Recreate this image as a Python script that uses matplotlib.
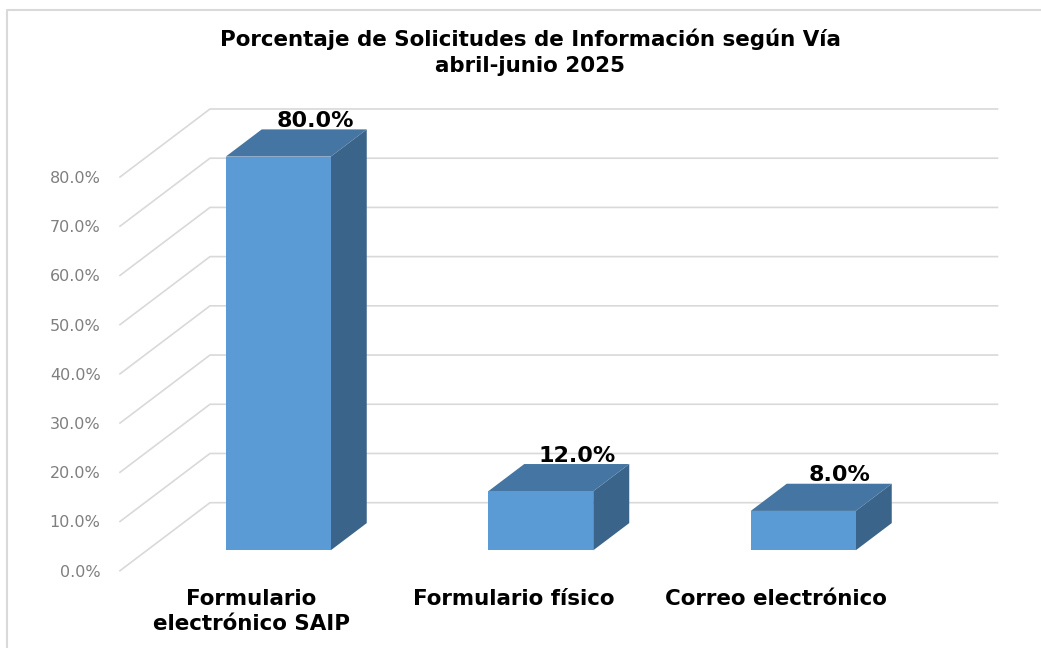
import matplotlib
matplotlib.use("Agg")
import matplotlib.pyplot as plt
from matplotlib.lines import Line2D
from matplotlib.patches import Polygon

categories = ["Formulario\nelectrónico SAIP", "Formulario físico", "Correo electrónico"]
values = [80.0, 12.0, 8.0]
y_ticks = [0, 10, 20, 30, 40, 50, 60, 70, 80]
title_text = "Porcentaje de Solicitudes de Información según Vía\nabril-junio 2025"

W, H = 1041, 648
fig = plt.figure(figsize=(W / 100, H / 100), dpi=100, facecolor="white")

# axes box is the front plane of the fake 3D chart
ax = fig.add_axes([120 / W, 1 - 570.7 / H, 787.5 / W, 393.7 / H])
ax.set_xlim(0, 3)
ax.set_ylim(0, 80)
ax.patch.set_alpha(0)
for s in ax.spines.values():
    s.set_visible(False)

# how far the back wall is shifted, in data units
DEPTH_X = 90 / 262.5
DEPTH_Y = 68 / 4.92


def proj(x, v, d):
    return (x + d * DEPTH_X, v + d * DEPTH_Y)


GRID = "#d9d9d9"
for v in y_ticks:
    x0, y0 = proj(0, v, 0)
    x1, y1 = proj(0, v, 1)
    x2, y2 = proj(3, v, 1)
    ax.plot([x0, x1, x2], [y0, y1, y2], color=GRID, lw=1.2, clip_on=False, zorder=1)

# bars: box from depth 0.3 to 0.7, 40% of the category wide
half = 0.2
for i, val in enumerate(values):
    c = i + 0.5
    l, r = c - half, c + half
    front = [proj(l, 0, 0.3), proj(r, 0, 0.3), proj(r, val, 0.3), proj(l, val, 0.3)]
    top = [proj(l, val, 0.3), proj(r, val, 0.3), proj(r, val, 0.7), proj(l, val, 0.7)]
    side = [proj(r, 0, 0.3), proj(r, 0, 0.7), proj(r, val, 0.7), proj(r, val, 0.3)]
    ax.add_patch(Polygon(side, closed=True, fc="#3a6489", ec="none", clip_on=False, zorder=3))
    ax.add_patch(Polygon(top, closed=True, fc="#4575a2", ec="none", clip_on=False, zorder=3))
    ax.add_patch(Polygon(front, closed=True, fc="#5b9bd5", ec="none", clip_on=False, zorder=4))
    ax.annotate(f"{val:.1f}%", xy=proj(c, val, 0.7), xytext=(0.5, 1.8), textcoords="offset points",
                ha="center", va="baseline", fontsize=16, fontweight="bold", color="black",
                annotation_clip=False, zorder=5)

ax.set_yticks(y_ticks)
ax.set_yticklabels([f"{v:.1f}%" for v in y_ticks], fontsize=11.5, color="#7f7f7f")
ax.set_xticks([i + 0.5 for i in range(len(categories))])
ax.set_xticklabels(categories, fontsize=15.4, fontweight="bold", color="black", linespacing=1.3)
ax.tick_params(axis="y", length=0, pad=14)
ax.tick_params(axis="x", length=0, pad=13)

fig.text(530 / W, 1 - 52.5 / H, title_text, ha="center", va="center", fontsize=15.4,
         fontweight="bold", color="black", linespacing=1.4)

# chart frame, only left and top show in the crop
fig.add_artist(Line2D([7 / W, 7 / W, 1], [0, 1 - 10 / H, 1 - 10 / H], color=GRID, lw=1.5))

fig.savefig("out.png", dpi=100)
